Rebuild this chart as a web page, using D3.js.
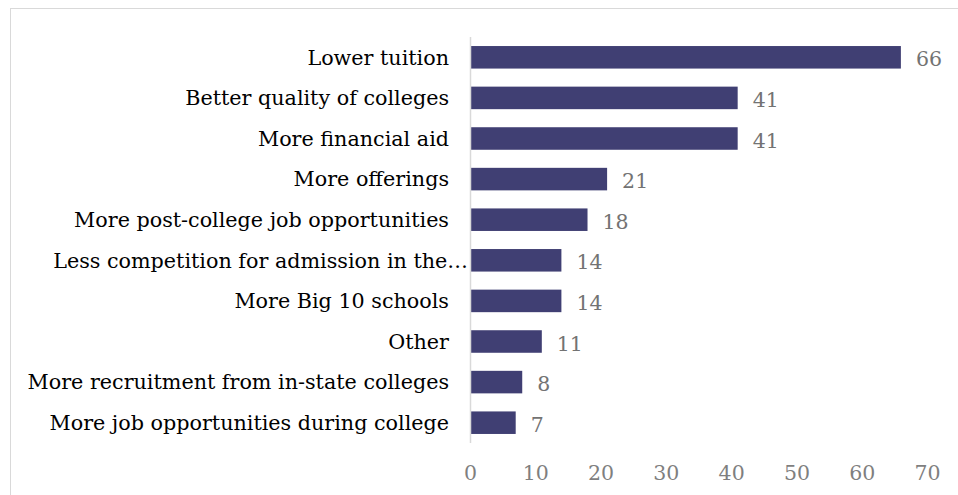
<!DOCTYPE html>
<html>
<head>
<meta charset="utf-8">
<script src="https://cdn.jsdelivr.net/npm/d3@7"></script>
<style>
  html, body { margin: 0; padding: 0; background: #fff; }
  svg { display: block; }
</style>
</head>
<body>
<svg id="chart" width="958" height="495"></svg>
<script>
// Reasons cited, ordered top to bottom
const categories = [
  "Lower tuition",
  "Better quality of colleges",
  "More financial aid",
  "More offerings",
  "More post-college job opportunities",
  "Less competition for admission in the…",
  "More Big 10 schools",
  "Other",
  "More recruitment from in-state colleges",
  "More job opportunities during college"
];
const values = [66, 41, 41, 21, 18, 14, 14, 11, 8, 7];
const xTicks = [0, 10, 20, 30, 40, 50, 60, 70];

const svg = d3.select("#chart");
const serif = "'DejaVu Serif', Georgia, serif";

// Outer frame
svg.append("rect")
  .attr("x", 10.5).attr("y", 8.5)
  .attr("width", 1000).attr("height", 600)
  .attr("fill", "none").attr("stroke", "#d9d9d9").attr("stroke-width", 1);

const x = d3.scaleLinear().domain([0, 70]).range([470, 927]);
const y = d3.scaleBand().domain(categories).range([37, 443]).paddingInner(0.445).paddingOuter(0.2225);

// Bars
svg.append("g").selectAll("rect")
  .data(values)
  .join("rect")
  .attr("x", x(0))
  .attr("y", (d, i) => y(categories[i]))
  .attr("width", d => x(d) - x(0))
  .attr("height", y.bandwidth())
  .attr("fill", "#403f73");

// Category axis line
svg.append("line")
  .attr("x1", x(0) + 0.5).attr("x2", x(0) + 0.5)
  .attr("y1", 37).attr("y2", 443)
  .attr("stroke", "#d9d9d9").attr("stroke-width", 1.5);

// Category labels
svg.append("g").selectAll("text")
  .data(categories)
  .join("text")
  .attr("x", d => d.endsWith("…") ? x(0) - 2 : x(0) - 21)
  .attr("y", d => y(d) + y.bandwidth() / 2)
  .attr("dy", "0.35em")
  .attr("text-anchor", "end")
  .attr("font-family", serif)
  .attr("font-size", 20.7)
  .attr("fill", "#000")
  .text(d => d);

// Value labels
svg.append("g").selectAll("text")
  .data(values)
  .join("text")
  .attr("x", d => x(d) + 15)
  .attr("y", (d, i) => y(categories[i]) + y.bandwidth() / 2 + 2)
  .attr("dy", "0.35em")
  .attr("font-family", serif)
  .attr("font-size", 20.5)
  .attr("fill", "#737373")
  .text(d => d);

// Value axis (labels only)
const xAxis = d3.axisBottom(x).tickValues(xTicks).tickSize(0).tickPadding(0);
const gx = svg.append("g").attr("transform", "translate(0,465)").call(xAxis);
gx.select(".domain").remove();
gx.selectAll("text")
  .attr("font-family", serif)
  .attr("font-size", 20.5)
  .attr("fill", "#7f7f7f");
</script>
</body>
</html>
